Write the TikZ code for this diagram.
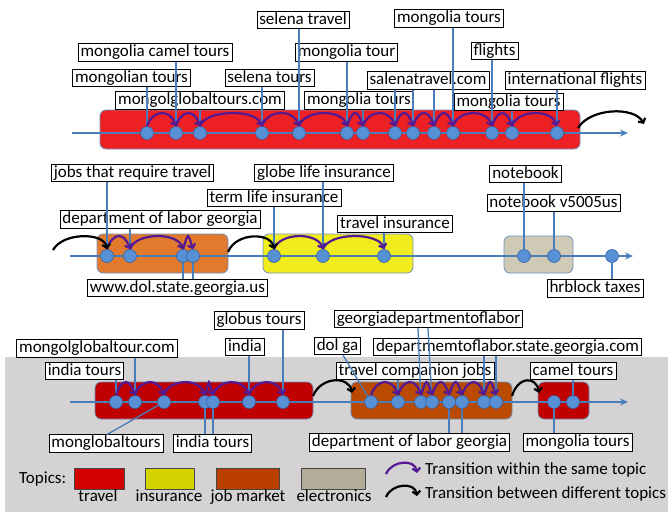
\documentclass[tikz,border=0pt]{standalone}
\usepackage{fontspec}
\setmainfont{Carlito}
\usetikzlibrary{arrows.meta,calc}
\definecolor{axisblue}{RGB}{74,126,187}
\definecolor{dotfill}{RGB}{88,144,214}
\definecolor{dotdraw}{RGB}{56,100,165}
\definecolor{purp}{RGB}{85,25,145}
\definecolor{topred}{RGB}{237,32,36}
\definecolor{midorange}{RGB}{226,122,46}
\definecolor{midyellow}{RGB}{240,236,30}
\definecolor{tan}{RGB}{206,202,182}
\definecolor{botred}{RGB}{192,0,0}
\definecolor{botorange}{RGB}{185,74,0}
\definecolor{bggray}{RGB}{212,210,210}
\definecolor{lred}{RGB}{210,0,0}
\definecolor{lyellow}{RGB}{212,212,0}
\definecolor{lorange}{RGB}{187,64,0}
\definecolor{lgray}{RGB}{178,172,152}
\definecolor{boxedge}{RGB}{110,145,190}
\definecolor{swedge}{RGB}{70,70,70}
\begin{document}
\begin{tikzpicture}[x=1pt,y=-1pt,
  font=\fontsize{17}{19}\selectfont,
  lab/.style={draw=black, line width=0.6pt, fill=white, inner xsep=2.5pt, inner ysep=1pt, text height=12pt, text depth=3.5pt},
  plain/.style={inner sep=0pt, text height=12pt, text depth=3.5pt},
  dot/.style={circle, inner sep=0pt, minimum size=13pt, fill=dotfill, draw=dotdraw, line width=0.6pt},
  topic/.style={rounded corners=6pt, draw=boxedge, line width=0.8pt},
  axisline/.style={draw=axisblue, line width=1.4pt, -{Stealth[length=8pt,width=7pt]}},
  leader/.style={draw=axisblue, line width=1.3pt},
  samearc/.style={draw=purp, line width=2.2pt, -{Straight Barb[length=3.5pt,width=8pt]}},
  diffarc/.style={draw=black, line width=2.2pt, -{Straight Barb[length=3.5pt,width=8pt]}},
  swatch/.style={draw=swedge, line width=0.8pt, minimum height=21pt, inner sep=0pt}
]
\useasboundingbox (0,0) rectangle (668,517);
% background of lower part
\fill[bggray] (5,357) rectangle (668,512);

% topic boxes
\draw[topic, fill=topred] (100,110) rectangle (580,149);
\draw[topic, fill=midorange] (97,234) rectangle (228,273);
\draw[topic, fill=midyellow] (263,234) rectangle (413,273);
\draw[topic, fill=tan] (504,236) rectangle (573,273);
\draw[topic, fill=botred] (95,382) rectangle (313,419);
\draw[topic, fill=botorange] (351,382) rectangle (512,419);
\draw[topic, fill=botred] (538,382) rectangle (589,419);

% time axes
\coordinate (ta0) at (72,133);  \coordinate (ta1) at (628,133);
\coordinate (ma0) at (70,256);  \coordinate (ma1) at (633,256);
\coordinate (ba0) at (70,402);  \coordinate (ba1) at (628,402);
\draw[axisline] (ta0) -- (ta1);
\draw[axisline] (ma0) -- (ma1);
\draw[axisline] (ba0) -- (ba1);

% labels, top row
\node[lab] (L1) at (131.5,78) {mongolian tours};
\node[lab] (L2) at (155,52.5) {mongolia camel tours};
\node[lab] (L3) at (200,100.5) {mongolglobaltours.com};
\node[lab] (L4) at (269.5,78) {selena tours};
\node[lab] (L5) at (303,20) {selena travel};
\node[lab] (L6) at (346.5,52.5) {mongolia tour};
\node[lab] (L7) at (359,100.5) {mongolia tours};
\node[lab] (L8) at (428,80.5) {salenatravel.com};
\node[lab] (L9) at (449,18.5) {mongolia tours};
\node[lab] (L10) at (494.5,51) {flights};
\node[lab] (L11) at (508.5,102) {mongolia tours};
\node[lab] (L12) at (575,80.5) {international flights};

% labels, middle row
\node[lab] (M1) at (132.5,173) {jobs that require travel};
\node[lab] (M2) at (160,219.5) {department of labor georgia};
\node[lab] (M3) at (177.5,288) {www.dol.state.georgia.us};
\node[lab] (M4) at (324,173) {globe life insurance};
\node[lab] (M5) at (274,198) {term life insurance};
\node[lab] (M6) at (395,224) {travel insurance};
\node[lab] (M7) at (525.5,174) {notebook};
\node[lab] (M8) at (553.5,203) {notebook v5005us};
\node[lab] (M9) at (595,288.5) {hrblock taxes};

% labels, bottom row
\node[lab] (B1) at (97,348.5) {mongolglobaltour.com};
\node[lab] (B2) at (84.5,371) {india tours};
\node[lab] (B3) at (106,443.5) {monglobaltours};
\node[lab] (B4) at (212.5,443.5) {india tours};
\node[lab] (B5) at (245,347) {india};
\node[lab] (B6) at (259,320.5) {globus tours};
\node[lab] (B7) at (337.5,346) {dol ga};
\node[lab] (B8) at (428.5,319) {georgiadepartmentoflabor};
\node[lab] (B9) at (507.5,347) {departmemtoflabor.state.georgia.com};
\node[lab] (B10) at (415,371) {travel companion jobs};
\node[lab] (B11) at (409.5,442.5) {department of labor georgia};
\node[lab] (B12) at (573,371) {camel tours};
\node[lab] (B13) at (577.5,442.5) {mongolia tours};

% query dots
\foreach \n/\x in {1/147,2/176,3/200,4/262,5/299,6/347,7/363,8/395,9/413,10/434,11/453,12/492,13/512,14/557}
  \node[dot] (t\n) at (\x,133) {};
\foreach \n/\x in {1/107,2/130,3/183,4/193,5/274,6/323,7/384,8/524,9/554,10/612}
  \node[dot] (m\n) at (\x,256) {};
\foreach \n/\x in {1/116,2/135,3/164,4/205,5/213,6/249,7/283,8/371,9/398,10/421,11/432,12/449,13/462,14/484,15/496,16/554,17/573}
  \node[dot] (b\n) at (\x,402) {};

% leaders, top row
\draw[leader] (L1.south -| t1) -- (t1);
\draw[leader] (L2.south -| t2) -- (t2);
\draw[leader] (L3.south -| t3) -- (t3);
\draw[leader] (L4.south -| t4) -- (t4);
\draw[leader] (L5.south -| t5) -- (t5);
\draw[leader] (L6.south -| t6) -- (t6);
\draw[leader] (L7.south -| t7) -- (t7);
\draw[leader] (L8.south -| t8) -- (t8);
\draw[leader] (L8.south -| t9) -- (t9);
\draw[leader] (L8.south -| t10) -- (t10);
\draw[leader] (L9.south -| t11) -- (t11);
\draw[leader] (L10.south -| t12) -- (t12);
\draw[leader] (L11.south -| t13) -- (t13);
\draw[leader] (L12.south -| t14) -- (t14);

% leaders, middle row
\draw[leader] (M1.south -| m1) -- (m1);
\draw[leader] (M2.south -| m2) -- (m2);
\draw[leader] (m3) -- (m3 |- M3.north);
\draw[leader] (m4) -- (m4 |- M3.north);
\draw[leader] (M5.south -| m5) -- (m5);
\draw[leader] (M4.south -| m6) -- (m6);
\draw[leader] (M6.south -| m7) -- (m7);
\draw[leader] (M7.south -| m8) -- (m8);
\draw[leader] (M8.south -| m9) -- (m9);
\draw[leader] (m10) -- (m10 |- M9.north);

% leaders, bottom row
\draw[leader] (B2.south -| b1) -- (b1);
\draw[leader] (B1.south -| b2) -- (b2);
\draw[leader] (b3) -- ([xshift=1pt]B3.north);
\draw[leader] (b4) -- (b4 |- B4.north);
\draw[leader] (b5) -- (b5 |- B4.north);
\draw[leader] (B5.south -| b6) -- (b6);
\draw[leader] (B6.south -| b7) -- (b7);
\draw[leader] ([xshift=5.5pt]B7.south) -- (b8);
\draw[leader] (B10.south -| b9) -- (b9);
\draw[leader] ([xshift=-10.5pt]B8.south) -- (b10);
\draw[leader] ([xshift=-0.5pt]B8.south) -- (b11);
\draw[leader] (b12) -- (b12 |- B11.north);
\draw[leader] (b13) -- (b13 |- B11.north);
\draw[leader] (B9.south -| b14) -- (b14);
\draw[leader] (B9.south -| b15) -- (b15);
\draw[leader] (b16) -- (b16 |- B13.north);
\draw[leader] (B12.south -| b17) -- (b17);

% transitions within a topic
\foreach \a/\b in {1/2,2/3,3/4,4/5,5/6,6/7,7/8,8/9,9/10,10/11,11/12,12/13,13/14}
  \draw[samearc] (t\a.north) .. controls +(-72:18) and +(-108:18) .. (t\b.north);
\foreach \a/\b in {1/2,2/3,3/4,5/6,6/7}
  \draw[samearc] (m\a.north) .. controls +(-72:18) and +(-108:18) .. (m\b.north);
\foreach \a/\b in {1/2,2/3,3/4,4/5,5/6,6/7,8/9,9/10,10/11,11/12,12/13,13/14,14/15}
  \draw[samearc] (b\a.north) .. controls +(-72:18) and +(-108:18) .. (b\b.north);

% transitions between topics
\coordinate (tx0) at (578,128); \coordinate (tx1) at (644,124);
\draw[diffarc] (tx0) .. controls +(12,-20) and +(-10,-18) .. (tx1);
\coordinate (mx0) at (53,250);
\draw[diffarc] (mx0) .. controls +(10,-18) and +(-3,-17) .. (m1.north);
\coordinate (mx1) at (228,252);
\draw[diffarc] (mx1) .. controls +(8,-20) and +(-3,-17) .. (m5.north);
\coordinate (bx0) at (313,396); \coordinate (bx1) at (352,393);
\draw[diffarc] (bx0) .. controls +(8,-20) and +(-3,-17) .. (bx1);
\coordinate (bx2) at (512,396); \coordinate (bx3) at (539,393);
\draw[diffarc] (bx2) .. controls +(6,-20) and +(-3,-17) .. (bx3);

% legend
\node[plain, anchor=west] (lt) at (19,479) {Topics:};
\node[swatch, fill=lred, minimum width=50pt] (s1) at (99,478.5) {};
\node[swatch, fill=lyellow, minimum width=49pt] (s2) at (169.5,478.5) {};
\node[swatch, fill=lorange, minimum width=63pt] (s3) at (247.5,478.5) {};
\node[swatch, fill=lgray, minimum width=64pt] (s4) at (333,478.5) {};
\node[plain] (s1t) at (98,497) {travel};
\node[plain] (s2t) at (169,497) {insurance};
\node[plain] (s3t) at (248,497) {job market};
\node[plain] (s4t) at (334,497) {electronics};
\coordinate (lp0) at (386,474); \coordinate (lp1) at (417,473);
\draw[samearc] (lp0) .. controls +(6,-14) and +(-2,-14) .. (lp1);
\coordinate (lb0) at (386,497); \coordinate (lb1) at (417,496);
\draw[diffarc] (lb0) .. controls +(6,-14) and +(-2,-14) .. (lb1);
\node[plain, anchor=west] (lpt) at (425,470) {Transition within the same topic};
\node[plain, anchor=west] (lbt) at (425,494) {Transition between different topics};
\end{tikzpicture}
\end{document}
